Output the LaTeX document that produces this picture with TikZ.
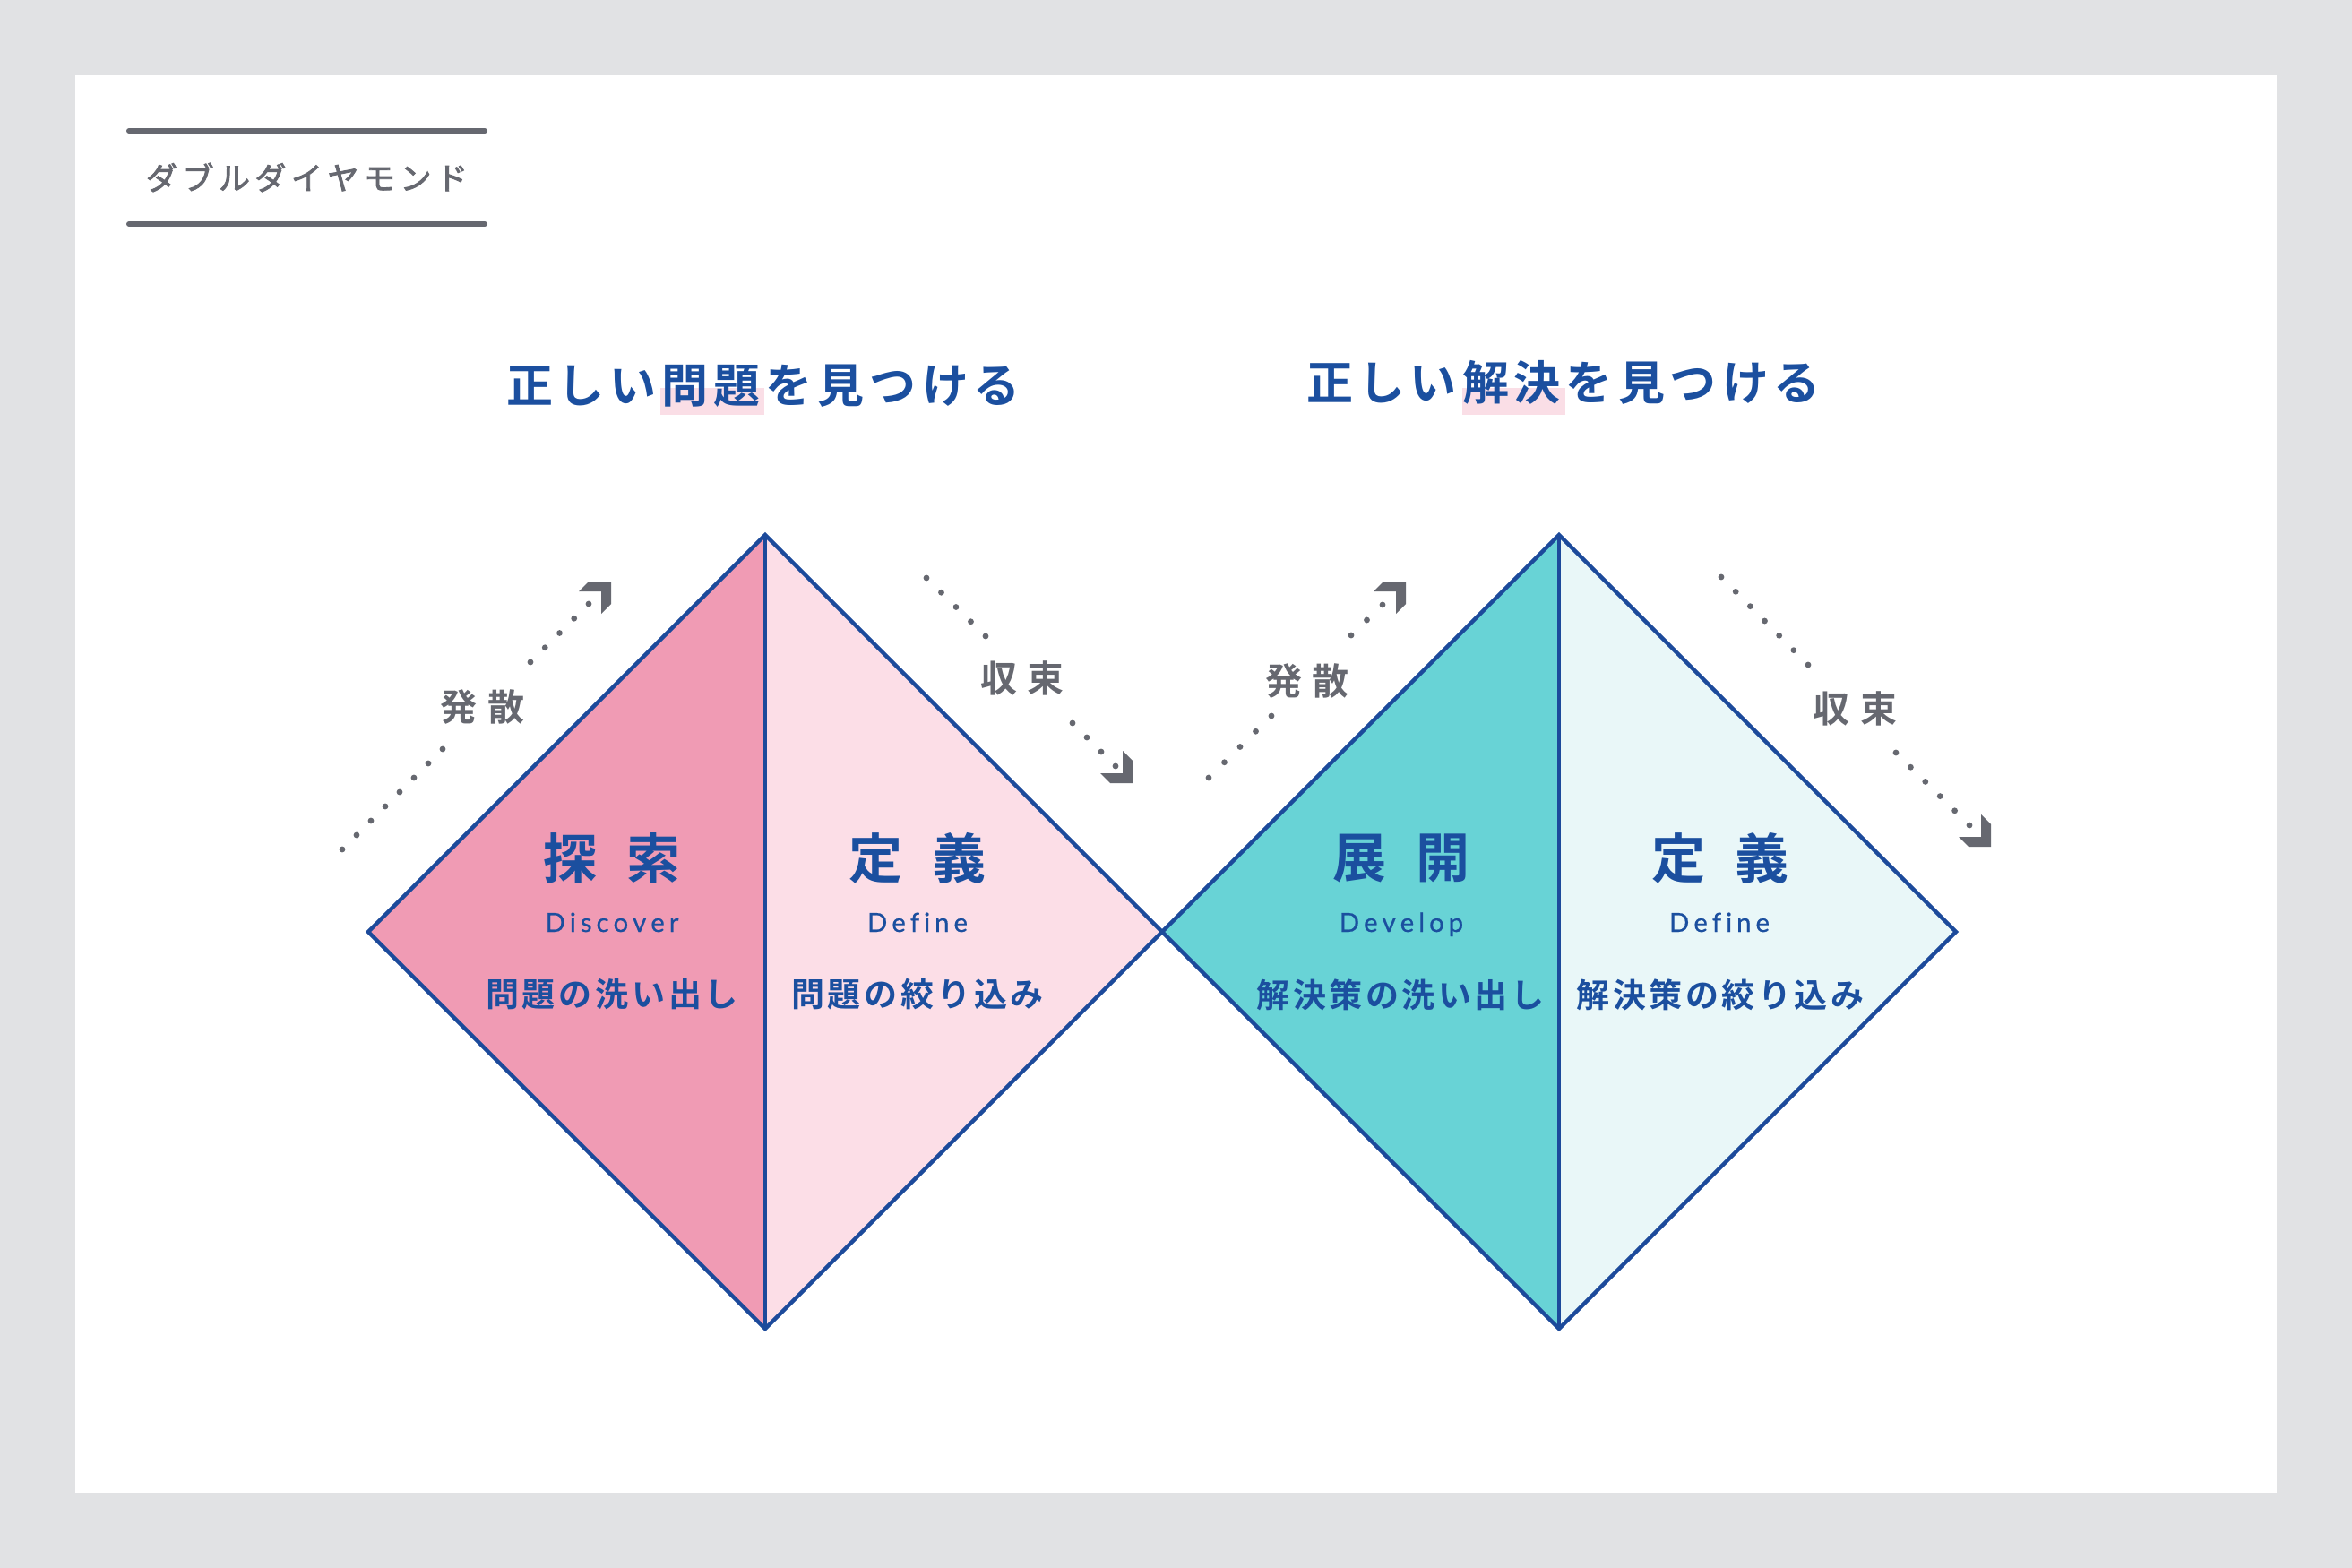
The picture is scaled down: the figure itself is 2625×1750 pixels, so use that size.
\documentclass[tikz,border=0pt]{standalone}
\usepackage{fontspec}
\usetikzlibrary{calc}
\newfontfamily\jp{Noto Sans CJK JP}[BoldFont={Noto Sans CJK JP Bold}]
\newfontfamily\jpmed{Noto Sans CJK JP}[FakeBold=2.5]
\newfontfamily\lat{Lato}[FakeBold=0.6]
\makeatletter
\newcommand\tracked[2]{{\def\trk@sep{}\@tfor\trk@c:=#2\do{\trk@sep\trk@c\def\trk@sep{\kern#1}}}}
\makeatother
\definecolor{bggrey}{RGB}{225,226,228}
\definecolor{lineblue}{RGB}{28,74,155}
\definecolor{textblue}{RGB}{27,79,159}
\definecolor{pinkA}{RGB}{240,155,180}
\definecolor{pinkB}{RGB}{252,222,231}
\definecolor{tealA}{RGB}{104,211,214}
\definecolor{tealB}{RGB}{233,247,248}
\definecolor{greytext}{RGB}{102,104,112}
\definecolor{hlpink}{RGB}{250,222,230}
\begin{document}
\begin{tikzpicture}[x=1pt,y=-1pt,
  titleline/.style={line width=6pt,line cap=round,draw=greytext},
  titletext/.style={inner sep=0pt,text=greytext,font=\jpmed\fontsize{35pt}{35pt}\selectfont},
  headtext/.style={inner sep=0pt,text=textblue,font=\jp\bfseries\fontsize{52pt}{52pt}\selectfont},
  hlbox/.style={fill=hlpink},
  bigtext/.style={inner sep=0pt,text=textblue,font=\jp\bfseries\fontsize{60pt}{60pt}\selectfont},
  entext/.style={inner sep=0pt,anchor=base,text=textblue,font=\lat\fontsize{29.3pt}{29.3pt}\selectfont},
  subtext/.style={inner sep=0pt,text=textblue,font=\jp\bfseries\fontsize{37pt}{37pt}\selectfont},
  graylabel/.style={inner sep=0pt,text=greytext,font=\jp\bfseries\fontsize{41pt}{41pt}\selectfont},
  dotfill/.style={fill=greytext},
  arrowfill/.style={fill=greytext},
  outline/.style={draw=lineblue,line width=4.5pt,line join=miter},
  divider/.style={draw=lineblue,line width=4pt}]
\useasboundingbox (0,0) rectangle (2625,1750);
\fill[bggrey] (0,0) rectangle (2625,1750);
\fill[white] (84,84) rectangle (2541,1666);
% title
\coordinate (tl1a) at (144,146); \coordinate (tl1b) at (541,146);
\coordinate (tl2a) at (144,250); \coordinate (tl2b) at (541,250);
\draw[titleline] (tl1a) -- (tl1b);
\draw[titleline] (tl2a) -- (tl2b);
\node[titletext] (title) at (342.5,198) {\tracked{5.5pt}{ダブルダイヤモンド}};
% headlines
\fill[hlbox] (737,433) rectangle (853,463);
\fill[hlbox] (1632,433) rectangle (1747,463);
\node[headtext] (head1) at (852,431) {\tracked{6pt}{正しい問題を見つける}};
\node[headtext] (head2) at (1745,427) {\tracked{6pt}{正しい解決を見つける}};
% diamonds
\coordinate (d1t) at (854,597); \coordinate (d1l) at (411,1040);
\coordinate (d1b) at (854,1483); \coordinate (d1r) at (1297,1040);
\coordinate (d2t) at (1740,597); \coordinate (d2b) at (1740,1483);
\coordinate (d2r) at (2183,1040);
\fill[pinkA] (d1t) -- (d1l) -- (d1b) -- cycle;
\fill[pinkB] (d1t) -- (d1r) -- (d1b) -- cycle;
\fill[tealA] (d2t) -- (d1r) -- (d2b) -- cycle;
\fill[tealB] (d2t) -- (d2r) -- (d2b) -- cycle;
\draw[outline] (d1t) -- (d1r) -- (d1b) -- (d1l) -- cycle;
\draw[outline] (d2t) -- (d2r) -- (d2b) -- (d1r) -- cycle;
\draw[divider] (d1t) -- (d1b);
\draw[divider] (d2t) -- (d2b);
% diamond texts
\node[bigtext] (k1) at (683,958) {\tracked{33pt}{探索}};
\node[bigtext] (k2) at (1024,958) {\tracked{33pt}{定義}};
\node[bigtext] (k3) at (1564,958) {\tracked{33pt}{展開}};
\node[bigtext] (k4) at (1920,958) {\tracked{33pt}{定義}};
\node[entext] (e1) at (683,1040) {\tracked{5pt}{Discover}};
\node[entext] (e2) at (1024,1040) {\tracked{5pt}{Define}};
\node[entext] (e3) at (1564,1040) {\tracked{5pt}{Develop}};
\node[entext] (e4) at (1919,1040) {\tracked{5pt}{Define}};
\node[subtext] (s1) at (683,1110) {\tracked{3.8pt}{問題の洗い出し}};
\node[subtext] (s2) at (1024,1110) {\tracked{3.8pt}{問題の絞り込み}};
\node[subtext] (s3) at (1563,1110) {\tracked{3.5pt}{解決策の洗い出し}};
\node[subtext] (s4) at (1920,1110) {\tracked{3.5pt}{解決策の絞り込み}};
% grey labels
\node[graylabel] (g1) at (538.5,789) {\tracked{12pt}{発散}};
\node[graylabel] (g2) at (1141,757) {\tracked{12pt}{収束}};
\node[graylabel] (g3) at (1459,760) {\tracked{12pt}{発散}};
\node[graylabel] (g4) at (2070,791) {\tracked{12pt}{収束}};
% dotted guides
\coordinate (l1a) at (382,948); \coordinate (l1b) at (494,836);
\coordinate (l1c) at (592,739); \coordinate (l1d) at (657,674);
\coordinate (l2a) at (1034,645); \coordinate (l2b) at (1100,710);
\coordinate (l2c) at (1197,807); \coordinate (l2d) at (1245,855);
\coordinate (l3a) at (1349,868); \coordinate (l3b) at (1419,799);
\coordinate (l3c) at (1508,709); \coordinate (l3d) at (1543,675);
\coordinate (l4a) at (1921,644); \coordinate (l4b) at (2018,742);
\coordinate (l4c) at (2116,840); \coordinate (l4d) at (2198,921);
\foreach \i in {0,...,7} \fill[dotfill] ($(l1a)!\i/7!(l1b)$) circle[radius=3.4pt];
\foreach \i in {0,...,4} \fill[dotfill] ($(l1c)!\i/4!(l1d)$) circle[radius=3.4pt];
\foreach \i in {0,...,4} \fill[dotfill] ($(l2a)!\i/4!(l2b)$) circle[radius=3.4pt];
\foreach \i in {0,...,3} \fill[dotfill] ($(l2c)!\i/3!(l2d)$) circle[radius=3.4pt];
\foreach \i in {0,...,4} \fill[dotfill] ($(l3a)!\i/4!(l3b)$) circle[radius=3.4pt];
\foreach \i in {0,...,2} \fill[dotfill] ($(l3c)!\i/2!(l3d)$) circle[radius=3.4pt];
\foreach \i in {0,...,6} \fill[dotfill] ($(l4a)!\i/6!(l4b)$) circle[radius=3.4pt];
\foreach \i in {0,...,5} \fill[dotfill] ($(l4c)!\i/5!(l4d)$) circle[radius=3.4pt];
% arrowheads
\coordinate (a1) at (682,649); \coordinate (a2) at (1264,874);
\coordinate (a3) at (1569,649); \coordinate (a4) at (2222,945);
\fill[arrowfill,shift={(a1)}] (0,0) -- (-25,0) -- (-36,11) -- (-11,11) -- (-11,36) -- (0,25) -- cycle;
\fill[arrowfill,shift={(a3)}] (0,0) -- (-25,0) -- (-36,11) -- (-11,11) -- (-11,36) -- (0,25) -- cycle;
\fill[arrowfill,shift={(a2)}] (0,0) -- (-25,0) -- (-36,-11) -- (-11,-11) -- (-11,-36) -- (0,-25) -- cycle;
\fill[arrowfill,shift={(a4)}] (0,0) -- (-25,0) -- (-36,-11) -- (-11,-11) -- (-11,-36) -- (0,-25) -- cycle;
\end{tikzpicture}
\end{document}
